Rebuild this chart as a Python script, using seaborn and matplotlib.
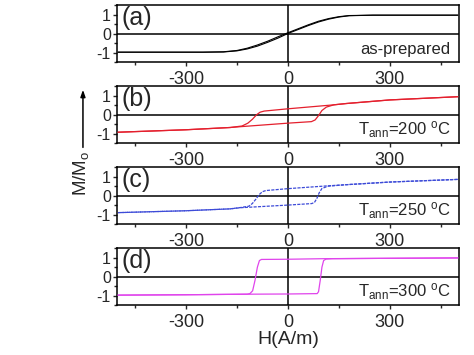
import matplotlib
matplotlib.use("Agg")
import matplotlib.pyplot as plt
from matplotlib.ticker import MultipleLocator
import seaborn as sns
import pandas as pd

# (a) as-prepared
A_H_DOWN = [500, 250, 180, 150, 120, 90, 60, 30, 0, -30, -60, -90, -120, -150, -190, -250, -500]
A_M_DOWN = [0.98, 0.98, 0.96, 0.90, 0.80, 0.66, 0.47, 0.26, 0.05, -0.17, -0.40, -0.60, -0.77, -0.89, -0.96, -0.98, -0.98]
A_H_UP = [-500, -250, -190, -150, -120, -90, -60, -30, 0, 30, 60, 90, 120, 150, 180, 250, 500]
A_M_UP = [-0.98, -0.98, -0.97, -0.91, -0.81, -0.66, -0.46, -0.24, 0.01, 0.22, 0.43, 0.62, 0.77, 0.88, 0.95, 0.98, 0.98]

# (b) Tann = 200 C
B_H_DOWN = [500, 300, 172, 135, 0, -70, -82, -92, -105, -118, -135, -170, -300, -500]
B_M_DOWN = [0.95, 0.78, 0.59, 0.52, 0.31, 0.19, 0.13, 0.0, -0.25, -0.45, -0.60, -0.68, -0.80, -0.93]
B_H_UP = [-500, -300, -170, -135, 0, 69, 80, 90, 100, 113, 135, 172, 300, 500]
B_M_UP = [-0.93, -0.80, -0.68, -0.63, -0.45, -0.37, -0.28, -0.05, 0.22, 0.40, 0.52, 0.59, 0.78, 0.95]

# (c) Tann = 250 C
C_H_DOWN = [500, 300, 172, 118, 0, -65, -75, -85, -95, -105, -115, -140, -170, -300, -500]
C_M_DOWN = [0.86, 0.72, 0.58, 0.52, 0.37, 0.27, 0.21, 0.05, -0.20, -0.42, -0.56, -0.63, -0.70, -0.80, -0.90]
C_H_UP = [-500, -300, -170, -140, 0, 70, 78, 85, 92, 100, 118, 172, 300, 500]
C_M_UP = [-0.90, -0.80, -0.70, -0.64, -0.50, -0.42, -0.36, -0.15, 0.15, 0.38, 0.50, 0.58, 0.72, 0.86]

# (d) Tann = 300 C
D_H_DOWN = [500, 300, 108, 0, -78, -84, -90, -97, -104, -112, -120, -300, -500]
D_M_DOWN = [0.99, 0.97, 0.95, 0.92, 0.91, 0.85, 0.50, -0.20, -0.75, -0.90, -0.93, -0.96, -0.98]
D_H_UP = [-500, -300, -112, 0, 86, 90, 95, 100, 105, 112, 130, 300, 500]
D_M_UP = [-0.98, -0.96, -0.93, -0.92, -0.90, -0.80, -0.20, 0.50, 0.85, 0.93, 0.95, 0.97, 0.99]

PANELS = [
    ("(a)", "as-prepared", "black", "-", 0.8, A_H_DOWN, A_M_DOWN, A_H_UP, A_M_UP),
    ("(b)", r"T$_{\mathrm{ann}}$=200 $^{\mathrm{o}}$C", "#e41f2d", "-", 0.9, B_H_DOWN, B_M_DOWN, B_H_UP, B_M_UP),
    ("(c)", r"T$_{\mathrm{ann}}$=250 $^{\mathrm{o}}$C", "#3d4bd8", (0, (2.5, 1)), 0.9, C_H_DOWN, C_M_DOWN, C_H_UP, C_M_UP),
    ("(d)", r"T$_{\mathrm{ann}}$=300 $^{\mathrm{o}}$C", "#e044ec", "-", 0.9, D_H_DOWN, D_M_DOWN, D_H_UP, D_M_UP),
]

sns.set_style("ticks")
plt.rcParams["font.family"] = ["Liberation Sans", "DejaVu Sans"]
plt.rcParams["mathtext.fontset"] = "custom"
plt.rcParams["mathtext.rm"] = "Liberation Sans"
plt.rcParams["mathtext.it"] = "Liberation Sans:italic"
plt.rcParams["axes.unicode_minus"] = False

fig, axes = plt.subplots(4, 1, figsize=(4.74, 3.55), dpi=100)
fig.subplots_adjust(left=0.247, right=0.968, top=0.986, bottom=0.141, hspace=0.42)

for ax, (tag, note, color, ls, lw, h_down, m_down, h_up, m_up) in zip(axes, PANELS):
    ax.axhline(0, color="black", linewidth=1.1, zorder=1)
    ax.axvline(0, color="black", linewidth=1.1, zorder=1)
    for h, m in ((h_down, m_down), (h_up, m_up)):
        df = pd.DataFrame({"H": h, "M": m})
        sns.lineplot(data=df, x="H", y="M", sort=False, estimator=None,
                     color=color, linestyle=ls, linewidth=lw, ax=ax, zorder=3)
    ax.set_xlim(-503, 503)
    ax.set_ylim(-1.5, 1.52)
    ax.xaxis.set_major_locator(MultipleLocator(300))
    ax.xaxis.set_minor_locator(MultipleLocator(150))
    ax.yaxis.set_major_locator(MultipleLocator(1))
    ax.yaxis.set_minor_locator(MultipleLocator(0.5))
    ax.tick_params(axis="x", which="major", direction="out", length=3, width=1, labelsize=13, pad=3.5)
    ax.tick_params(axis="x", which="minor", direction="out", length=2.5, width=1)
    ax.tick_params(axis="y", which="major", direction="out", length=3, width=1, labelsize=11.5, pad=1.5)
    ax.tick_params(axis="y", which="minor", direction="out", length=2, width=1)
    ax.set_xlabel("")
    ax.set_ylabel("")
    for s in ax.spines.values():
        s.set_visible(True)
        s.set_linewidth(1.1)
        s.set_color("black")
    ax.text(0.012, 0.985, tag, transform=ax.transAxes, ha="left", va="top", fontsize=18)
    ax.text(0.975, 0.14, note, transform=ax.transAxes, ha="right", va="baseline", fontsize=12)

axes[-1].set_xlabel("H(A/m)", fontsize=14, labelpad=0)

fig.text(0.171, 0.512, r"M/M$_{\mathrm{o}}$", rotation=90, ha="center", va="center", fontsize=13.5)
fig.patches.append(matplotlib.patches.FancyArrowPatch(
    (0.175, 0.577), (0.175, 0.755), transform=fig.transFigure,
    arrowstyle="-|>,head_length=4,head_width=1.4", color="black", linewidth=1.1))

fig.savefig("out.png", dpi=100)
